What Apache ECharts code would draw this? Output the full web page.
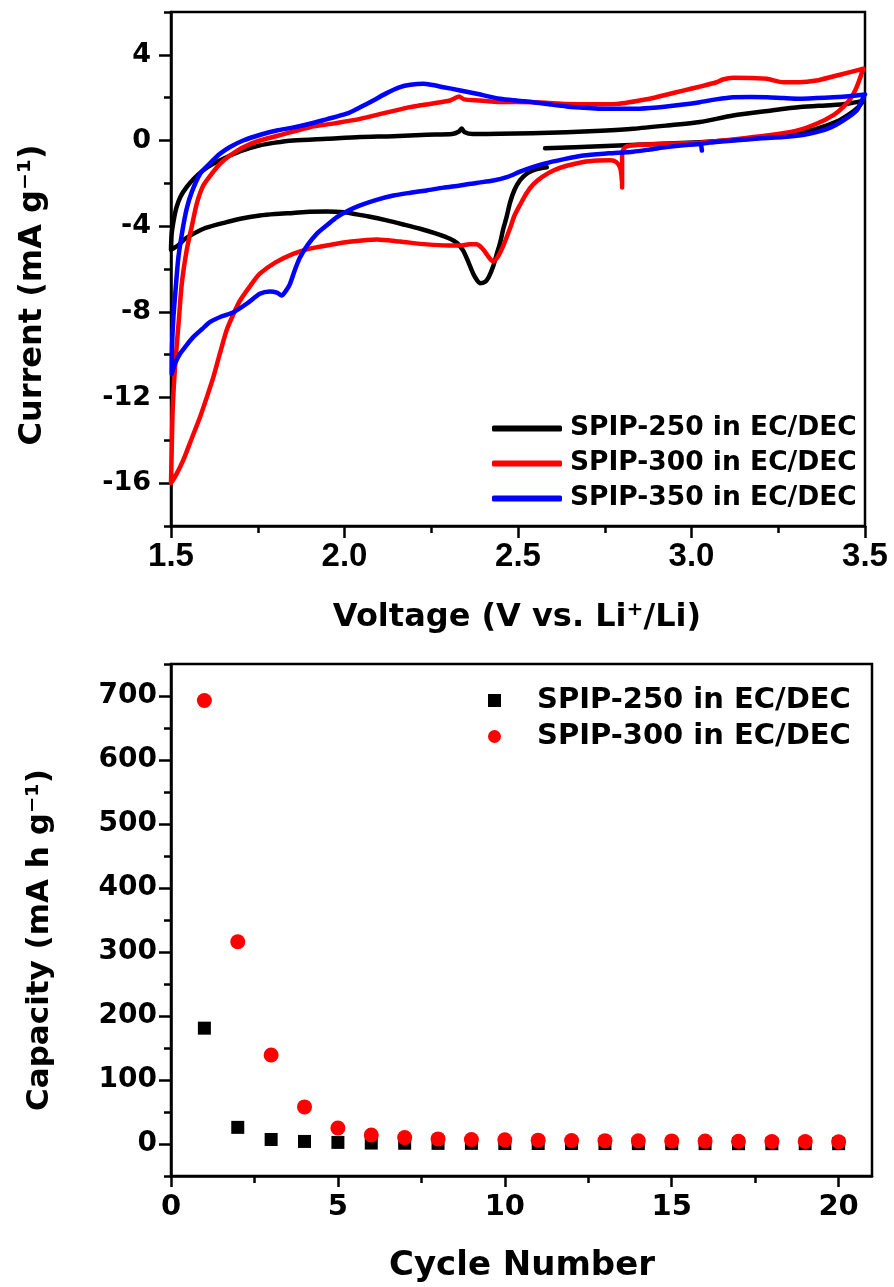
<!DOCTYPE html>
<html>
<head>
<meta charset="utf-8">
<script src="https://cdn.jsdelivr.net/npm/echarts@6/dist/echarts.min.js"></script>
<style>html,body{margin:0;padding:0;background:#fff;}#c{width:894px;height:1287px;}</style>
</head>
<body>
<div id="c"></div>
<script>
// ---------- CV data (voltage V, current mA g-1), path order ----------
const cv250V = [2.578,2.736,2.88,3.024,3.12,3.217,3.30,3.361,3.42,3.457,3.48,3.495,
 3.45,3.40,3.313,3.22,3.12,3.024,2.93,2.832,2.74,2.64,2.54,2.448,2.37,2.345,2.338,2.33,2.31,2.237,2.14,2.045,1.95,1.852,1.80,1.756,1.70,1.66,1.62,1.592,1.565,1.545,1.528,1.516,1.508,1.502,1.50,
 1.52,1.54,1.564,1.60,1.66,1.70,1.756,1.80,1.852,1.90,1.949,2.0,2.025,2.07,2.122,2.17,2.218,2.26,2.304,2.325,2.342,2.355,2.371,2.383,2.39,2.405,2.415,2.428,2.439,2.448,2.458,2.467,2.477,2.49,2.506,2.525,2.543,2.565,2.583];
const cv250I = [-0.36,-0.27,-0.18,-0.08,0.02,0.15,0.35,0.55,0.9,1.26,1.55,1.85,
 1.72,1.65,1.56,1.38,1.17,0.86,0.70,0.55,0.46,0.39,0.34,0.31,0.30,0.40,0.56,0.42,0.30,0.27,0.20,0.16,0.08,0,-0.1,-0.23,-0.5,-0.78,-1.1,-1.4,-1.8,-2.18,-2.6,-3.11,-3.7,-4.35,-5.1,
 -4.9,-4.6,-4.36,-4.08,-3.81,-3.65,-3.5,-3.43,-3.38,-3.33,-3.31,-3.35,-3.42,-3.55,-3.73,-3.92,-4.12,-4.33,-4.59,-4.8,-5.14,-5.6,-6.22,-6.55,-6.66,-6.6,-6.4,-5.9,-5.29,-4.8,-4.1,-3.58,-2.9,-2.3,-1.85,-1.55,-1.4,-1.3,-1.25];

const cv300V = [2.80,2.80,2.80,2.81,2.85,2.93,3.024,3.12,3.217,3.30,3.36,3.41,3.437,3.46,3.476,3.495,
 3.457,3.41,3.36,3.31,3.265,3.217,3.17,3.12,3.09,3.072,3.02,2.976,2.93,2.88,2.784,2.70,2.64,2.544,2.448,2.39,2.345,2.33,2.315,2.304,2.25,2.189,2.12,2.045,1.97,1.90,1.83,1.756,1.708,1.67,1.641,1.615,1.593,1.575,1.560,1.545,1.531,1.522,1.512,1.505,1.502,1.50,
 1.515,1.535,1.56,1.584,1.605,1.622,1.64,1.66,1.68,1.699,1.73,1.756,1.80,1.852,1.90,1.949,2.02,2.093,2.16,2.237,2.30,2.333,2.36,2.381,2.395,2.405,2.418,2.429,2.443,2.458,2.477,2.49,2.506,2.525,2.544,2.57,2.602,2.64,2.688,2.73,2.765,2.783,2.795,2.80];
const cv300I = [-2.2,-1.5,-0.6,-0.3,-0.2,-0.15,-0.1,0.05,0.23,0.45,0.78,1.2,1.56,2.0,2.49,3.35,
 3.19,3.0,2.8,2.72,2.72,2.88,2.92,2.93,2.85,2.72,2.5,2.33,2.15,1.95,1.71,1.69,1.71,1.79,1.8,1.87,1.92,2.05,1.95,1.87,1.72,1.56,1.3,1.01,0.8,0.62,0.32,0,-0.31,-0.7,-1.09,-1.6,-2.1,-2.9,-4.0,-5.14,-6.7,-8.5,-10.5,-12.5,-14.5,-16.0,
 -15.6,-14.94,-13.9,-12.9,-11.9,-11.05,-10.0,-8.87,-8.1,-7.47,-6.75,-6.22,-5.7,-5.29,-5.05,-4.9,-4.72,-4.62,-4.72,-4.85,-4.9,-4.9,-4.85,-4.85,-5.0,-5.2,-5.5,-5.65,-5.4,-4.9,-4.1,-3.5,-3.0,-2.45,-2.05,-1.7,-1.4,-1.18,-1.0,-0.93,-0.92,-1.0,-1.3,-2.0];

const cv350V = [3.03,3.028,3.05,3.12,3.20,3.265,3.32,3.36,3.40,3.437,3.476,3.495,3.5,
 3.46,3.409,3.36,3.313,3.265,3.217,3.17,3.12,3.07,3.024,2.976,2.928,2.88,2.832,2.736,2.69,2.64,2.59,2.544,2.50,2.448,2.381,2.33,2.285,2.25,2.227,2.19,2.16,2.12,2.083,2.045,2.006,1.95,1.90,1.85,1.805,1.76,1.708,1.67,1.641,1.61,1.584,1.56,1.545,1.532,1.521,1.514,1.507,1.503,1.502,
 1.512,1.526,1.545,1.564,1.59,1.612,1.645,1.68,1.72,1.756,1.785,1.805,1.819,1.832,1.843,1.858,1.872,1.895,1.92,1.95,1.978,2.01,2.045,2.09,2.141,2.19,2.237,2.285,2.333,2.38,2.429,2.47,2.506,2.54,2.573,2.63,2.688,2.76,2.832,2.88,2.928,2.976,3.024];
const cv350I = [-0.47,-0.2,-0.1,0.0,0.1,0.16,0.25,0.39,0.6,0.93,1.4,2.02,2.15,
 2.08,2.02,1.98,1.95,1.98,2.02,2.03,2.02,1.92,1.79,1.68,1.59,1.52,1.48,1.48,1.53,1.59,1.69,1.79,1.86,1.95,2.18,2.35,2.49,2.6,2.65,2.6,2.49,2.2,1.87,1.55,1.25,1.0,0.78,0.6,0.47,0.28,0,-0.3,-0.62,-1.1,-1.55,-2.4,-3.2,-4.3,-5.5,-6.8,-8.25,-9.6,-10.9,
 -10.4,-9.96,-9.55,-9.18,-8.8,-8.48,-8.22,-8.02,-7.6,-7.16,-7.05,-7.1,-7.24,-7.0,-6.69,-6.0,-5.45,-4.85,-4.36,-3.95,-3.58,-3.28,-3.03,-2.78,-2.57,-2.44,-2.33,-2.2,-2.1,-1.98,-1.87,-1.7,-1.45,-1.25,-1.09,-0.88,-0.7,-0.6,-0.52,-0.42,-0.31,-0.22,-0.16];

// ---------- Capacity data ----------
const cycles = [1,2,3,4,5,6,7,8,9,10,11,12,13,14,15,16,17,18,19,20];
const cap250 = [181,26,7,4,2.5,1.5,1.2,1,1,0.8,0.8,0.7,0.7,0.6,0.6,0.6,0.5,0.5,0.5,0.5];
const cap300 = [693,316,139,58,25,14,10,8,7,6.5,6,5.5,5.2,5,4.8,4.5,4.3,4,3.8,3.5];

// ---------- Tick values ----------
const cvXTicks = [1.5,2.0,2.5,3.0,3.5];
const cvXMinor = [1.75,2.25,2.75,3.25];
const cvYTicks = [-16,-12,-8,-4,0,4];
const cvYMinor = [-18,-14,-10,-6,-2,2,6];
const capXTicks = [0,5,10,15,20];
const capXMinor = [2.5,7.5,12.5,17.5];
const capYTicks = [0,100,200,300,400,500,600,700];
const capYMinor = [-50,50,150,250,350,450,550,650,750];

const names = ['SPIP-250 in EC/DEC','SPIP-300 in EC/DEC','SPIP-350 in EC/DEC'];
const capNames = ['SPIP-250 in EC/DEC ','SPIP-300 in EC/DEC '];

const pairs = (xs, ys) => xs.map((x, i) => [x, ys[i]]);
const DJ = 'DejaVu Sans';
const LB = 'Liberation Sans';

function mainAxis(grid, min, max, ticks, tickLen, labelFont, labelSize, margin, fmt) {
  return {
    type: 'value', gridIndex: grid, min: min, max: max,
    axisLine: {show: true, onZero: false, lineStyle: {color: '#000', width: 2.5}},
    axisTick: {show: true, inside: false, length: tickLen, customValues: ticks, lineStyle: {color: '#000', width: 2.5}},
    axisLabel: {show: true, customValues: ticks, margin: margin, color: '#000', fontFamily: labelFont, fontWeight: 'bold', fontSize: labelSize, formatter: fmt},
    splitLine: {show: false}
  };
}
function minorAxis(grid, min, max, ticks) {
  return {
    type: 'value', gridIndex: grid, min: min, max: max,
    axisLine: {show: false, onZero: false},
    axisTick: {show: true, inside: false, length: 7, customValues: ticks, lineStyle: {color: '#000', width: 2.5}},
    axisLabel: {show: false},
    splitLine: {show: false}
  };
}

const chart = echarts.init(document.getElementById('c'), null, {renderer: 'canvas'});
const lineColors = ['#000000', '#ff0000', '#0000ff'];
const cvSets = [[cv250V, cv250I], [cv300V, cv300I], [cv350V, cv350I]];

const option = {
  animation: false,
  backgroundColor: '#fff',
  grid: [
    {left: 171, top: 12, width: 694, height: 514, show: true, borderColor: '#000', borderWidth: 2.5, backgroundColor: 'transparent'},
    {left: 171, top: 664, width: 701, height: 512, show: true, borderColor: '#000', borderWidth: 2.5, backgroundColor: 'transparent'},
    {left: 171, top: 12, width: 694, height: 514, show: false},
    {left: 171, top: 664, width: 701, height: 512, show: false}
  ],
  xAxis: [
    mainAxis(0, 1.5, 3.5, cvXTicks, 12, LB, 33, 14, v => Number(v).toFixed(1)),
    mainAxis(1, 0, 21, capXTicks, 11, DJ, 29, 17, v => String(v)),
    minorAxis(2, 1.5, 3.5, cvXMinor),
    minorAxis(3, 0, 21, capXMinor)
  ],
  yAxis: [
    mainAxis(0, -18, 6, cvYTicks, 12, DJ, 27, 20, v => String(v)),
    mainAxis(1, -50, 750, capYTicks, 12, DJ, 28, 14, v => String(v)),
    minorAxis(2, -18, 6, cvYMinor),
    minorAxis(3, -50, 750, capYMinor)
  ],
  legend: [
    {
      data: names, orient: 'vertical', left: 487, top: 410,
      itemWidth: 70, itemHeight: 6, itemGap: 8, icon: 'roundRect', selectedMode: false,
      textStyle: {fontFamily: DJ, fontWeight: 'bold', fontSize: 26.5, color: '#000', padding: [0, 0, 0, 3]}
    },
    {
      data: capNames, orient: 'vertical', left: 483, top: 681,
      itemWidth: 13, itemHeight: 13, itemGap: 7, selectedMode: false,
      itemStyle: {opacity: 1},
      textStyle: {fontFamily: DJ, fontWeight: 'bold', fontSize: 29, color: '#000', padding: [0, 0, 0, 31]}
    }
  ],
  series: cvSets.map((s, k) => ({
    type: 'line', name: names[k], xAxisIndex: 0, yAxisIndex: 0,
    data: pairs(s[0], s[1]), showSymbol: false, symbol: 'none', smooth: 0.25,
    color: lineColors[k],
    lineStyle: {color: lineColors[k], width: 4.5, cap: 'round', join: 'round'},
    itemStyle: {color: lineColors[k]}
  })).concat([
    {type: 'scatter', name: capNames[0], xAxisIndex: 1, yAxisIndex: 1, symbol: 'rect', symbolSize: 13,
     itemStyle: {color: '#000', opacity: 1}, data: pairs(cycles, cap250)},
    {type: 'scatter', name: capNames[1], xAxisIndex: 1, yAxisIndex: 1, symbol: 'circle', symbolSize: 15,
     itemStyle: {color: '#ff0000', opacity: 1}, data: pairs(cycles, cap300)}
  ]),
  graphic: [
    {type: 'text', x: 33, y: 295, rotation: Math.PI / 2,
     style: {text: 'Current (mA g\u207B\u00B9)', x: 0, y: 0, font: 'bold 32px "DejaVu Sans"', fill: '#000', textAlign: 'center', textVerticalAlign: 'middle', align: 'center', verticalAlign: 'middle'}},
    {type: 'text', x: 517, y: 618,
     style: {text: 'Voltage (V vs. Li\u207A/Li)', x: 0, y: 0, font: 'bold 32px "DejaVu Sans"', fill: '#000', textAlign: 'center', textVerticalAlign: 'middle', align: 'center', verticalAlign: 'middle'}},
    {type: 'text', x: 40, y: 940, rotation: Math.PI / 2,
     style: {text: 'Capacity (mA h g\u207B\u00B9)', x: 0, y: 0, font: 'bold 31px "DejaVu Sans"', fill: '#000', textAlign: 'center', textVerticalAlign: 'middle', align: 'center', verticalAlign: 'middle'}},
    {type: 'text', x: 522, y: 1266,
     style: {text: 'Cycle Number', x: 0, y: 0, font: 'bold 34px "DejaVu Sans"', fill: '#000', textAlign: 'center', textVerticalAlign: 'middle', align: 'center', verticalAlign: 'middle'}}
  ]
};
chart.setOption(option);
</script>
</body>
</html>
